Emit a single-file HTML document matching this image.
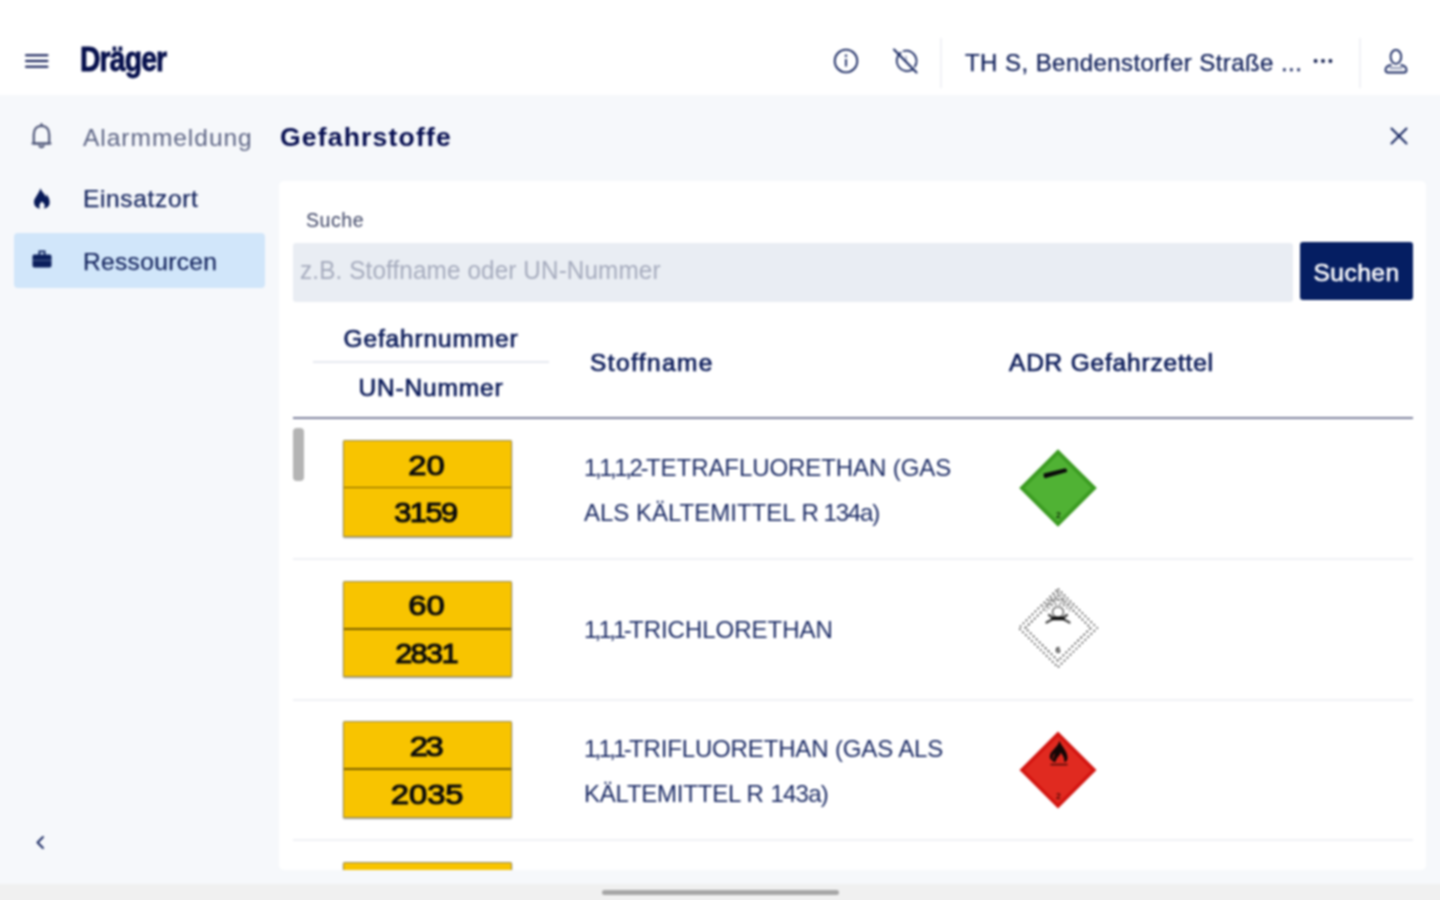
<!DOCTYPE html>
<html lang="de">
<head>
<meta charset="utf-8">
<title>Gefahrstoffe</title>
<style>
*{box-sizing:border-box;margin:0;padding:0}
html,body{width:1440px;height:900px;overflow:hidden}
body{position:relative;background:#f6f8fb;font-family:"Liberation Sans",sans-serif;color:#0b1f5c}
#app{position:absolute;left:0;top:0;width:1440px;height:900px;filter:blur(1px)}
#bgfill{position:absolute;left:-40px;top:-40px;width:1520px;height:980px;background:#f6f8fb}
.abs{position:absolute}
header{position:absolute;left:0;top:0;width:1440px;height:95px}
#hbg{position:absolute;left:-40px;top:-40px;width:1520px;height:135px;background:#fff}
.vdiv{position:absolute;top:38px;width:2px;height:50px;background:#f1f2f6}
.loc{position:absolute;left:965px;top:49px;font-size:24px;line-height:28px;white-space:nowrap;color:#0d1d58;-webkit-text-stroke:.25px #0d1d58;letter-spacing:.44px}
nav{position:absolute;left:0;top:95px;width:279px;height:787px}
.item{position:absolute;left:14px;width:251px;height:55px;border-radius:4px}
.item span{position:absolute;left:69px;top:14.5px;font-size:24.5px;line-height:28px;white-space:nowrap;letter-spacing:.35px}
.item svg{position:absolute}
.item.sel{background:#d1e6fa}
h1{position:absolute;left:280px;top:120.600px;font-size:26.500px;line-height:32px;font-weight:bold;letter-spacing:1.2px;color:#060e50;white-space:nowrap}
main{position:absolute;left:279px;top:181px;width:1147px;height:689px;background:#fff;border-radius:5px;overflow:hidden}
label{position:absolute;left:27px;top:27.6px;font-size:19.5px;line-height:22px;color:#3c4364;letter-spacing:.55px}
.input{position:absolute;left:14px;top:61.5px;width:1000px;height:59px;background:#e9edf3;border-radius:3px;font-size:26.5px;line-height:55px;padding-left:7px;color:#a5abbd;white-space:nowrap}
.input span{display:inline-block;transform-origin:0 50%;transform:scaleX(.915);letter-spacing:.15px}
.btn{position:absolute;left:1021px;top:61px;width:113px;height:58px;background:#051e62;border-radius:3px;color:#fff;font-size:24.5px;line-height:61px;text-align:center;font-weight:normal;-webkit-text-stroke:.6px #fff;letter-spacing:.5px}
.th{position:absolute;font-size:23.5px;line-height:26px;font-weight:normal;-webkit-text-stroke:.7px #0c1c5a;color:#0c1c5a;white-space:nowrap;letter-spacing:.85px;transform:scaleX(1.04)}
.hline{position:absolute;left:14px;top:236px;width:1120px;height:2px;background:#7c809c}
.sline{position:absolute;left:34px;top:180px;width:236px;height:2px;background:#e6e8ef}
.thumb{position:absolute;left:14px;top:247px;width:11px;height:53px;border-radius:4px;background:#b4b4b4}
.row{position:absolute;left:14px;width:1120px;height:140.6px}
.row:after{content:"";position:absolute;left:0;right:0;bottom:-1px;height:2px;background:#f0f1f5}
.plate{position:absolute;left:50px;top:21.7px;width:168.6px;height:96.4px;background:#f8c400;border:1px solid #9c8a4a;border-top-color:#948a66;border-radius:1.5px;box-shadow:0 1px 1.5px rgba(0,0,0,.4)}
.plate b{position:absolute;left:0;width:100%;height:30px;line-height:30px;text-align:center;font-size:28px;font-weight:normal;color:#0c0c0c;-webkit-text-stroke:1.1px #0c0c0c;white-space:nowrap}
.plate b span{display:inline-block;transform:scaleX(1.17)}
.plate b.t{top:9.700px}
.plate b.u{top:57px}
.plate hr{position:absolute;left:0;right:0;top:45.6px;height:1.7px;border:0;background:#7a5f00}
.nm{position:absolute;left:0;top:0;width:1120px;height:141px;overflow:visible}
.nm text{font-family:"Liberation Sans",sans-serif;font-size:24px;fill:#1a2a64;white-space:pre}
.haz{position:absolute;left:723.8px;top:28.7px;width:82px;height:82px}
footer{position:absolute;left:-40px;top:883.5px;width:1520px;height:58px;background:#f0f0f0}
footer i{position:absolute;left:641.5px;top:6.300px;width:237.500px;height:5px;border-radius:3px;background:#a6a6a6}
</style>
</head>
<body>
<div id="app">
<div id="bgfill"></div>
<div id="hbg"></div>
<header>
  <svg class="abs" style="left:24px;top:52px" width="26" height="18" viewBox="0 0 26 18"><g stroke="#0a1550" stroke-width="2" stroke-linecap="round"><line x1="2" y1="3.300" x2="23.500" y2="3.300"/><line x1="2" y1="9" x2="23.500" y2="9"/><line x1="2" y1="14.800" x2="23.500" y2="14.800"/></g></svg>
  <div class="abs" id="logo" style="left:80px;top:36.8px;font-size:34.5px;line-height:44px;font-weight:bold;color:#050f4c;letter-spacing:-1px;-webkit-text-stroke:.8px #050f4c;transform-origin:0 50%;transform:scaleX(.82)">Dräger</div>
  <svg class="abs" style="left:831.800px;top:46.700px" width="28" height="28" viewBox="0 0 28 28"><circle cx="14" cy="14" r="11.300" fill="none" stroke="#14245f" stroke-width="1.800"/><rect x="13.100" y="12" width="1.800" height="7.500" fill="#14245f"/><circle cx="14" cy="8.800" r="1.200" fill="#14245f"/></svg>
  <svg class="abs" style="left:890.600px;top:45.800px" width="30" height="30" viewBox="0 0 30 30"><g fill="none" stroke="#14245f" stroke-width="1.800" stroke-linecap="round"><path d="M9.500 6.800 A10.300 10.300 0 0 0 21.500 23.500 M23.800 20.500 A10.300 10.300 0 0 0 12.500 5"/><line x1="3" y1="3.500" x2="25.500" y2="26.500" stroke-width="2"/><polyline points="15,10.500 15,15.500" stroke-width="1.300" opacity=".5"/></g></svg>
  <div class="vdiv" style="left:940px"></div>
  <div class="loc">TH S, Bendenstorfer Straße ...</div>
  <svg class="abs" style="left:1311px;top:55.800px" width="24" height="10" viewBox="0 0 24 10"><g fill="#0a1648"><circle cx="4.600" cy="5" r="1.900"/><circle cx="12" cy="5" r="1.900"/><circle cx="19.400" cy="5" r="1.900"/></g></svg>
  <div class="vdiv" style="left:1358.600px"></div>
  <svg class="abs" style="left:1382px;top:46px" width="28" height="30" viewBox="0 0 28 30"><g fill="none" stroke="#14245f" stroke-width="1.800" stroke-linejoin="round"><ellipse cx="13.900" cy="10.800" rx="5.300" ry="7"/><path d="M9.500 19 C5.500 19.500 3.500 21.500 3.500 24 C3.500 25.800 4.500 26.500 6 26.500 L22 26.500 C23.500 26.500 24.500 25.800 24.500 24 C24.500 21.500 22.500 19.500 18.500 19"/><line x1="7.500" y1="22" x2="20.500" y2="22" opacity=".5"/></g></svg>
</header>

<nav>
  <div class="item" style="top:14px;color:#5c6484">
    <svg style="left:14px;top:12.4px" width="28" height="30" viewBox="0 0 28 30"><g fill="none" stroke="#4e5678" stroke-width="2.2" stroke-linejoin="round" stroke-linecap="round"><path d="M5.800 22.500 L5.800 13.500 C5.800 8 9 4.800 13.500 4.800 C18 4.800 21.200 8 21.200 13.500 L21.200 22.500 Z"/><line x1="4.500" y1="22.500" x2="22.500" y2="22.500"/><path d="M11.500 25.200 C12.300 26.300 14.700 26.300 15.500 25.200"/><line x1="13.5" y1="3" x2="13.5" y2="4.500"/></g></svg>
    <span style="top:14.5px;letter-spacing:.98px">Alarmmeldung</span>
  </div>
  <div class="item" style="top:76px;color:#14245e;-webkit-text-stroke:.25px #14245e">
    <svg style="left:17px;top:15px" width="22" height="26" viewBox="0 0 22 26"><path transform="translate(.7,.8) scale(.92)" fill="#081a58" d="M9.500 1.5 C10.5 5 14 7 15.5 11 C16 9.5 16 8.500 15.500 7.500 C18.500 10.500 19.500 14 19.500 17 C19.500 21 16.500 23.500 13 23.500 C15 21.500 14.500 18.500 11 16 C8.500 18.500 7.500 20.500 9 23.500 C5 23.500 2.500 20.500 2.500 16.500 C2.500 12 7 9 9.500 1.500 Z"/></svg>
    <span style="top:13.8px;letter-spacing:.65px">Einsatzort</span>
  </div>
  <div class="item sel" style="top:137.5px;color:#14245e;-webkit-text-stroke:.25px #14245e">
    <svg style="left:16px;top:15.500px" width="24" height="24" viewBox="0 0 24 24"><path fill="#0b1f5c" d="M8.500 2.500 L15.500 2.500 L15.500 6.500 L19.500 6.500 C20.800 6.500 21.500 7.300 21.500 8.500 L21.500 17.500 C21.500 18.700 20.800 19.500 19.500 19.500 L4.500 19.500 C3.200 19.500 2.500 18.700 2.500 17.500 L2.500 8.500 C2.500 7.300 3.200 6.500 4.500 6.500 L8.500 6.500 Z M10.300 4.200 L10.300 6.500 L13.700 6.500 L13.700 4.200 Z"/><rect x="2.500" y="11.800" width="19" height="1" fill="#d1e6fa" opacity=".35"/></svg>
    <span style="top:15px">Ressourcen</span>
  </div>
  <svg class="abs" style="left:32px;top:737px" width="16" height="20" viewBox="0 0 16 20"><polyline points="11,5 5.500,10.500 11,16" fill="none" stroke="#14245f" stroke-width="1.900" stroke-linecap="round" stroke-linejoin="round"/></svg>
</nav>

<h1>Gefahrstoffe</h1>
<svg class="abs" style="left:1388.300px;top:124.800px" width="22" height="22" viewBox="0 0 22 22"><g stroke="#14245f" stroke-width="1.900" stroke-linecap="round"><line x1="3.5" y1="3.500" x2="18.500" y2="18.500"/><line x1="18.500" y1="3.500" x2="3.500" y2="18.500"/></g></svg>

<main>
  <label>Suche</label>
  <div class="input"><span>z.B. Stoffname oder UN-Nummer</span></div>
  <div class="btn">Suchen</div>

  <div class="th" style="left:34px;width:236px;text-align:center;top:145px">Gefahrnummer</div>
  <div class="sline"></div>
  <div class="th" style="left:34px;width:236px;text-align:center;top:193.800px">UN-Nummer</div>
  <div class="th" style="left:311px;top:169.200px;transform-origin:0 50%;letter-spacing:1.37px">Stoffname</div>
  <div class="th" style="left:730px;top:169px;transform-origin:0 50%;letter-spacing:.8px">ADR Gefahrzettel</div>
  <div class="hline"></div>
  <div class="thumb"></div>

  <div class="row" style="top:237.5px">
    <div class="plate"><b class="t"><span id="p1a" style="position:relative;left:-0.8px;letter-spacing:0px">20</span></b><hr><b class="u"><span id="p1b" style="position:relative;left:-1.6px;letter-spacing:-1.34px;transform:scaleX(1.1)">3159</span></b></div>
    <svg class="nm" viewBox="0 0 1120 141"><text id="n1" x="291 301.93 306.18 317.11 321.36 332.29 336.54 347.47 353.04" y="57" style="letter-spacing:-.075px">1,1,1,2-TETRAFLUORETHAN (GAS</text><text id="n1c" x="291" y="101.800" style="letter-spacing:0px">ALS KÄLTEMITTEL R</text> <text id="n1d" x="530.410" y="101.800" style="letter-spacing:-1.12px">134a)</text></svg>
    <svg class="haz" viewBox="0 0 82 82"><polygon points="41,2.200 79.800,41 41,79.800 2.200,41" fill="#3a9b20"/><polygon points="41,7.500 74.500,41 41,74.500 7.500,41" fill="#50b234"/><path d="M26.500 26.500 L48.500 21.300 L50.200 23.200 L49.800 25 L28 31.200 L26.800 30 Z" fill="#0a0a0a"/><text x="41.300" y="70.500" font-size="8.500" font-weight="bold" text-anchor="middle" fill="#12330a" font-family="Liberation Sans, sans-serif">2</text></svg>
  </div>
  <div class="row" style="top:378.1px">
    <div class="plate"><b class="t"><span id="p2a" style="position:relative;left:-0.8px;letter-spacing:0px">60</span></b><hr style="top:46.300px"><b class="u" style="top:57.500px"><span id="p2b" style="position:relative;left:-1.6px;letter-spacing:-1.55px;transform:scaleX(1.1)">2831</span></b></div>
    <svg class="nm" viewBox="0 0 1120 141"><text id="n2" x="291 301.62 305.56 316.18 320.12 330.74 336.0" y="79.400" style="letter-spacing:-.02px">1,1,1-TRICHLORETHAN</text></svg>
    <svg class="haz" style="margin-top:-.5px" viewBox="0 0 82 82"><polygon points="41,1.800 80.200,41 41,80.200 1.800,41" fill="#fff" stroke="#1e1e1e" stroke-width="1.500" stroke-dasharray="1.600 2.600"/><polygon points="41,8.300 73.700,41 41,73.700 8.300,41" fill="none" stroke="#1e1e1e" stroke-width="1.500" stroke-dasharray="1.800 2.400"/><g fill="none" stroke="#4a4a4a" stroke-width="1.300" stroke-dasharray="1.500 2.500"><path d="M41 5 L56 20 M41 5 L26 20 M41 12 L53 24 M41 12 L29 24 M33 13 L49 13 M30 17.500 L52 17.500"/></g><ellipse cx="41" cy="25" rx="5.500" ry="5.200" fill="#fff" stroke="#555" stroke-width="1.300"/><g fill="none" stroke-linecap="round"><path d="M29.500 35.500 L35 32.500 M52.500 35.500 L47 32.500 M32 28 L35.500 30.500 M50 28 L46.500 30.500" stroke="#444" stroke-width="2.300"/><path d="M36 31.500 L46 31.500" stroke="#0c0c0c" stroke-width="3.600"/></g><text x="41" y="66" font-size="9" font-weight="bold" text-anchor="middle" fill="#222" font-family="Liberation Sans, sans-serif">6</text></svg>
  </div>
  <div class="row" style="top:518.7px">
    <div class="plate"><b class="t"><span id="p3a" style="position:relative;left:-1.8px;letter-spacing:-2.14px">23</span></b><hr style="top:46px"><b class="u" style="top:57.300px"><span id="p3b" style="position:relative;left:-0.6px;letter-spacing:0px">2035</span></b></div>
    <svg class="nm" viewBox="0 0 1120 141"><text id="n3" x="291 301.62 305.56 316.18 320.12 330.74 336.0" y="57" style="letter-spacing:-.15px">1,1,1-TRIFLUORETHAN (GAS ALS</text><text id="n3c" x="291" y="101.800" style="letter-spacing:-.23px">KÄLTEMITTEL R</text> <text id="n3d" x="477.390" y="101.800" style="letter-spacing:-.75px">143a)</text></svg>
    <svg class="haz" style="margin-top:.6px" viewBox="0 0 82 82"><polygon points="41,2.500 79.500,41 41,79.500 2.500,41" fill="#d3140f"/><polygon points="41,7.500 74.500,41 41,74.500 7.500,41" fill="#e02a20"/><path fill="#140606" d="M42.500 11.500 C44 17 50 21 50.500 28 C50.800 31 49.500 33 47 33 C48 30 46 26.500 43.500 23.500 C43.500 26 41.500 27.500 40 29.500 C39 31 38.500 32 38.800 33 C37 33 36 32.500 35 31.500 C36.500 29 37.500 26.500 37.500 24 C36 26 36 28.500 35 31.500 C33 30.500 32.300 28.500 33 26 C34 21.500 41 18 42.500 11.500 Z"/><ellipse cx="42.800" cy="30.500" rx="2.600" ry="3.200" fill="#dc261c"/><rect x="33.500" y="34.800" width="17" height="1.500" fill="#4a0a08"/><text x="41.300" y="70.300" font-size="8.500" font-weight="bold" text-anchor="middle" fill="#5a0a06" font-family="Liberation Sans, sans-serif">2</text></svg>
  </div>
  <div class="row" style="top:659.3px">
    <div class="plate"><hr></div>
  </div>
</main>

<footer><i></i></footer>
</div>
</body>
</html>
